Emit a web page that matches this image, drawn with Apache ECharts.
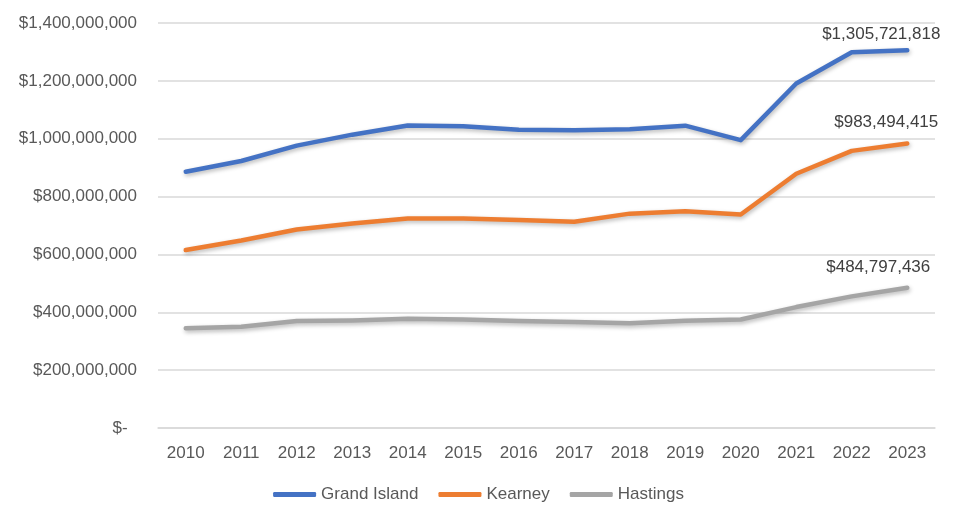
<!DOCTYPE html>
<html>
<head>
<meta charset="utf-8">
<script src="https://cdn.jsdelivr.net/npm/echarts@6/dist/echarts.min.js"></script>
<style>
html,body{margin:0;padding:0;background:#fff;}
#c{width:957px;height:525px;}
</style>
</head>
<body>
<div id="c"></div>
<script>
var years = ['2010','2011','2012','2013','2014','2015','2016','2017','2018','2019','2020','2021','2022','2023'];
var grandIsland = [886000000, 923000000, 976000000, 1014000000, 1046000000, 1043000000, 1031000000, 1029000000, 1033000000, 1045000000, 995000000, 1191000000, 1299000000, 1305721818];
var kearney = [615000000, 648000000, 686000000, 707000000, 724000000, 724000000, 719000000, 713000000, 741000000, 749000000, 738000000, 879000000, 958000000, 983494415];
var hastings = [345000000, 350000000, 370000000, 372000000, 378000000, 375000000, 370000000, 366000000, 362000000, 371000000, 375000000, 418000000, 455000000, 484797436];
var seriesNames = ['Grand Island', 'Kearney', 'Hastings'];
var yTicks = [0, 200000000, 400000000, 600000000, 800000000, 1000000000, 1200000000, 1400000000];

var FONT = '"Liberation Sans", Arial, sans-serif';

function money(v) {
  if (v === 0) return '$-  ';
  return '$' + Math.round(v).toString().replace(/\B(?=(\d{3})+(?!\d))/g, ',');
}

function buildData(arr, offset) {
  return arr.map(function (v, i) {
    if (i === arr.length - 1) {
      return {
        value: v,
        label: {
          show: true,
          position: 'top',
          offset: offset,
          formatter: function (p) { return money(p.value); },
          color: '#404040',
          fontSize: 17,
          fontFamily: FONT
        }
      };
    }
    return v;
  });
}

function mkSeries(name, arr, color, offset) {
  return {
    name: name,
    type: 'line',
    data: buildData(arr, offset),
    symbol: 'circle',
    symbolSize: 0.1,
    showSymbol: true,
    smooth: false,
    lineStyle: {
      color: color,
      width: 4.5,
      cap: 'round',
      join: 'round',
      shadowColor: 'rgba(0,0,0,0.28)',
      shadowBlur: 4,
      shadowOffsetX: 1,
      shadowOffsetY: 2
    },
    itemStyle: { color: color },
    label: { show: false },
    emphasis: { disabled: true },
    animation: false
  };
}

var chart = echarts.init(document.getElementById('c'));
chart.setOption({
  backgroundColor: '#ffffff',
  animation: false,
  grid: { left: 158, right: 22, top: 23, bottom: 97, containLabel: false },
  legend: {
    data: seriesNames,
    bottom: 17,
    left: 'center',
    itemWidth: 43,
    itemHeight: 5,
    itemGap: 20,
    icon: 'roundRect',
    textStyle: { color: '#595959', fontSize: 17, fontFamily: FONT, padding: [0, 0, 0, 0] }
  },
  xAxis: {
    type: 'category',
    data: years,
    boundaryGap: true,
    axisLine: { show: true, lineStyle: { color: '#d9d9d9', width: 1.5 } },
    axisTick: { show: false },
    axisLabel: { color: '#595959', fontSize: 17, fontFamily: FONT, margin: 17 }
  },
  yAxis: {
    type: 'value',
    min: 0,
    max: yTicks[yTicks.length - 1],
    interval: yTicks[1] - yTicks[0],
    axisLine: { show: false },
    axisTick: { show: false },
    splitLine: { lineStyle: { color: '#d9d9d9', width: 1.5 } },
    axisLabel: {
      color: '#595959',
      fontSize: 17,
      fontFamily: FONT,
      margin: 21,
      formatter: function (v) { return money(v); }
    }
  },
  series: [
    mkSeries(seriesNames[0], grandIsland, '#4472C4', [-26, -2]),
    mkSeries(seriesNames[1], kearney, '#ED7D31', [-21, -8]),
    mkSeries(seriesNames[2], hastings, '#A5A5A5', [-29, -7])
  ]
});
</script>
</body>
</html>
